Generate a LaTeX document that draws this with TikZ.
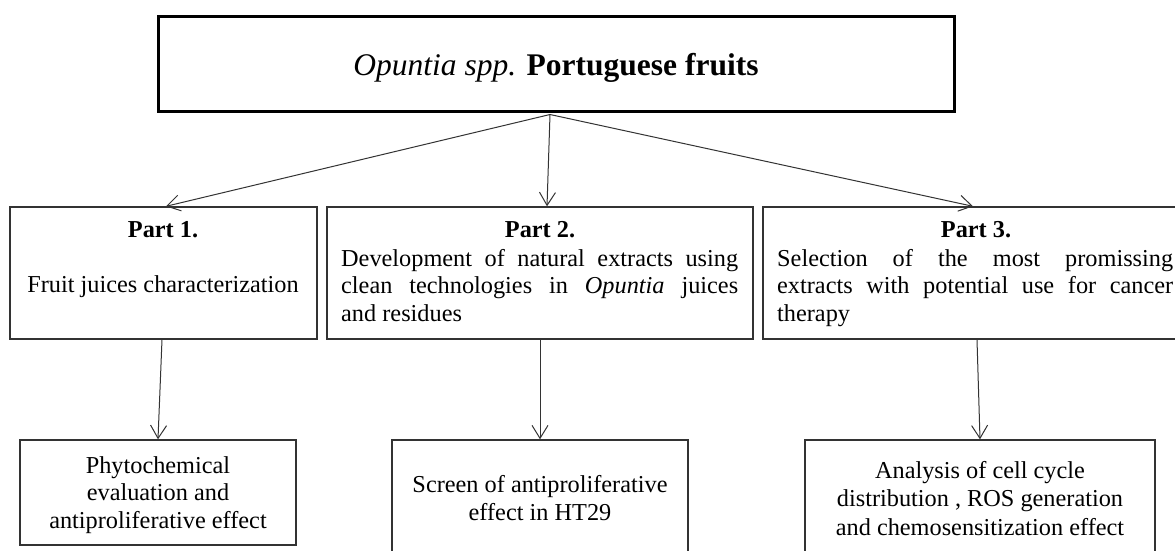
\documentclass[tikz,border=0pt]{standalone}
\usepackage{fontspec}
\setmainfont{Liberation Serif}
\usetikzlibrary{arrows.meta}
\begin{document}
\begin{tikzpicture}[x=1pt,y=-1pt,
  box/.style={draw=black!80, line width=1.4pt, inner sep=0pt, rectangle},
  topbox/.style={draw=black, line width=3pt, inner sep=0pt, rectangle},
  txt/.style={font=\fontsize{24.3}{28}\selectfont, inner sep=0pt, anchor=base},
  jtxt/.style={font=\fontsize{24.3}{28}\selectfont, inner sep=0pt, anchor=base west},
  arr/.style={draw=black!80, line width=1pt, -{Straight Barb[length=13pt,width=16pt,line width=1pt]}}
]
\useasboundingbox (0,0) rectangle (1175,550);
\clip (0,0) rectangle (1175,550);
\fill[white] (0,0) rectangle (1175,550);

% top box
\node[topbox, minimum width=796pt, minimum height=95pt] (top) at (556,64) {};
\node[inner sep=0pt, anchor=base, font=\fontsize{31.5}{36}\selectfont] (title) at (556,75) {\textit{Opuntia spp.} \textbf{Portuguese fruits}};

% part boxes
\node[box, minimum width=307pt, minimum height=132pt] (p1) at (163.5,273) {};
\node[box, minimum width=426pt, minimum height=132pt] (p2) at (540,273) {};
\node[box, minimum width=424pt, minimum height=132pt] (p3) at (975,273) {};

% bottom boxes
\node[box, minimum width=276pt, minimum height=105pt] (b1) at (158,492.5) {};
\node[box, minimum width=296pt, minimum height=130pt] (b2) at (540,505) {};
\node[box, minimum width=350pt, minimum height=130pt] (b3) at (980,505) {};

% part 1 text
\node[txt] (p1h) at (163,237) {\textbf{Part 1.}};
\node[txt] (p1a) at (163,292) {Fruit juices characterization};

% part 2 text
\node[txt] (p2h) at (540,237) {\textbf{Part 2.}};
\node[jtxt] (p2a) at (341,266) {\makebox[397pt][s]{Development of natural extracts using}};
\node[jtxt] (p2b) at (341,293.5) {\makebox[397pt][s]{clean technologies in \textit{Opuntia} juices}};
\node[jtxt] (p2c) at (341,321) {and residues};

% part 3 text
\node[txt] (p3h) at (976,237) {\textbf{Part 3.}};
\node[jtxt] (p3a) at (777,266) {\makebox[396pt][s]{Selection of the most promissing}};
\node[jtxt] (p3b) at (777,293.5) {\makebox[396pt][s]{extracts with potential use for cancer}};
\node[jtxt] (p3c) at (777,321) {therapy};

% bottom texts
\node[txt] (b1a) at (158,473) {Phytochemical};
\node[txt] (b1b) at (158,500.5) {evaluation and};
\node[txt] (b1c) at (158,528) {antiproliferative effect};

\node[txt] (b2a) at (540,492) {Screen of antiproliferative};
\node[txt] (b2b) at (540,520) {effect in HT29};

\node[txt] (b3a) at (980,478) {Analysis of cell cycle};
\node[txt] (b3b) at (980,506.5) {distribution , ROS generation};
\node[txt] (b3c) at (980,535) {and chemosensitization effect};

% connectors
\draw[arr] ([xshift=-6pt,yshift=-1.5pt]top.south) -- ([xshift=2.5pt]p1.north);
\draw[arr] ([xshift=-6pt,yshift=-1.5pt]top.south) -- ([xshift=7pt]p2.north);
\draw[arr] ([xshift=-6pt,yshift=-1.5pt]top.south) -- ([xshift=-2pt]p3.north);
\draw[arr] ([xshift=-1.5pt]p1.south) -- (b1.north);
\draw[arr] (p2.south) -- (b2.north);
\draw[arr] ([xshift=2pt]p3.south) -- (b3.north);
\end{tikzpicture}
\end{document}
